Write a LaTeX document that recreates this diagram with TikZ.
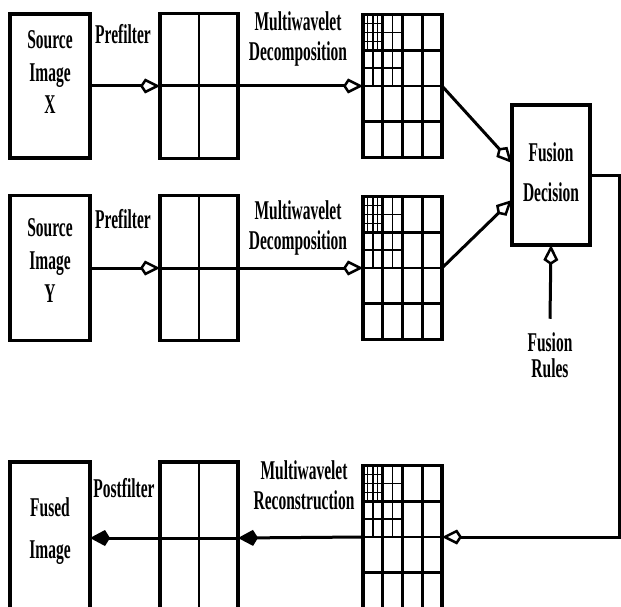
\documentclass[tikz,border=0pt]{standalone}
\usepackage{graphicx}
\usepackage{fontspec}
\setmainfont{Liberation Serif}
\usetikzlibrary{arrows.meta}

% scanned look: text stretched upwards
\newcommand{\tall}[1]{\scalebox{1}[1.75]{\begin{tabular}{@{}c@{}}#1\end{tabular}}}

% multiwavelet subband grid drawn inside a node
\newcommand{\mwgrid}[1]{%
  \begin{scope}[shift={(#1.north west)}]
    \foreach \i in {1,2,3} {
      \draw[gridline] (\i*19.75,0) -- (\i*19.75,143);
      \draw[gridline] (0,\i*35.75) -- (79,\i*35.75);
    }
    \foreach \i in {1,3} {
      \draw[fineline] (\i*9.875,0) -- (\i*9.875,71.5);
      \draw[fineline] (0,\i*17.875) -- (39.5,\i*17.875);
      \draw[finestline] (\i*4.9375,0) -- (\i*4.9375,35.75);
      \draw[finestline] (0,\i*8.9375) -- (19.75,\i*8.9375);
    }
  \end{scope}}

\begin{document}
\begin{tikzpicture}[x=1pt, y=-1pt,
    font=\fontsize{15.5}{18.6}\selectfont\bfseries,
    imgbox/.style={draw, line width=3.5pt, minimum width=80pt, inner sep=0pt, outer sep=0pt},
    filtbox/.style={draw, line width=3.5pt, minimum width=78pt, inner sep=0pt, outer sep=0pt},
    gridbox/.style={draw, line width=3.5pt, minimum width=79pt, minimum height=143pt, inner sep=0pt, outer sep=0pt},
    gridline/.style={line width=2.6pt},
    fineline/.style={line width=1.6pt},
    finestline/.style={line width=1.1pt},
    txt/.style={inner sep=0pt},
    conn/.style={line width=3pt},
    openhead/.style={conn, -{Kite[open, length=20pt, width=15pt, inset=5pt, line width=2.5pt]}},
    fullhead/.style={conn, -{Kite[length=20pt, width=16pt, inset=5pt]}}]
    \clip (0,0) rectangle (621,607);

    % --- 1. Source image X ---
    \node[imgbox, minimum height=144pt, label={[txt, yshift=11.5pt]center:\tall{Source\\Image\\X}}] (srcX) at (50,86) {};
    \node[filtbox, minimum height=145pt] (preX) at (199,86) {};
    \draw[line width=2pt] (preX.north) -- (preX.south);
    \draw[conn] (preX.west) -- (preX.east);
    \node[gridbox] (gridX) at (402.5,86) {};
    \mwgrid{gridX}
    \node[txt] (lblpreX) at (123,37) {\tall{Prefilter}};
    \node[txt] (lbldecX) at (298,39) {\tall{Multiwavelet\\[-1pt]Decomposition}};
    \draw[openhead] (srcX.east) -- (preX.west);
    \draw[openhead] (preX.east) -- (gridX.west);

    % --- 2. Source image Y ---
    \node[imgbox, minimum height=145pt, label={[txt, yshift=5pt]center:\tall{Source\\Image\\Y}}] (srcY) at (50,268) {};
    \node[filtbox, minimum height=145pt] (preY) at (199,268) {};
    \draw[line width=2pt] (preY.north) -- (preY.south);
    \draw[conn] (preY.west) -- (preY.east);
    \node[gridbox] (gridY) at (402.5,268) {};
    \mwgrid{gridY}
    \node[txt] (lblpreY) at (123,222) {\tall{Prefilter}};
    \node[txt] (lbldecY) at (298,228) {\tall{Multiwavelet\\[-1pt]Decomposition}};
    \draw[openhead] (srcY.east) -- (preY.west);
    \draw[openhead] (preY.east) -- (gridY.west);

    % --- 3. Fusion ---
    \node[filtbox, minimum height=140pt, label={[txt]center:\tall{Fusion\\[4pt]Decision}}] (fus) at (551,175) {};
    \node[txt] (rules) at (550,358) {\tall{Fusion\\[-4pt]Rules}};
    \draw[openhead] (gridX.east) -- ([yshift=12pt]fus.west);
    \draw[openhead] (gridY.east) -- ([yshift=-25pt]fus.west);
    \draw[openhead] ([yshift=10pt]rules.north) -- (fus.south);

    % --- 4. Fused image ---
    \node[imgbox, minimum height=152pt, label={[txt, yshift=7pt]center:\tall{Fused\\[5pt]Image}}] (fused) at (50,538) {};
    \node[filtbox, minimum height=152pt] (post) at (199,538) {};
    \draw[line width=2pt] (post.north) -- (post.south);
    \draw[conn] (post.west) -- (post.east);
    \node[gridbox] (gridF) at (402.5,537) {};
    \mwgrid{gridF}
    \node[txt] (lblpost) at (124,491) {\tall{Postfilter}};
    \node[txt] (lblrec) at (304,488) {\tall{Multiwavelet\\[-1.5pt]Reconstruction}};
    \draw[openhead] (fus.east) -- ++(29,0) |- (gridF.east);
    \draw[fullhead] (gridF.west) -- (post.east);
    \draw[fullhead] (post.west) -- (fused.east);
\end{tikzpicture}
\end{document}
